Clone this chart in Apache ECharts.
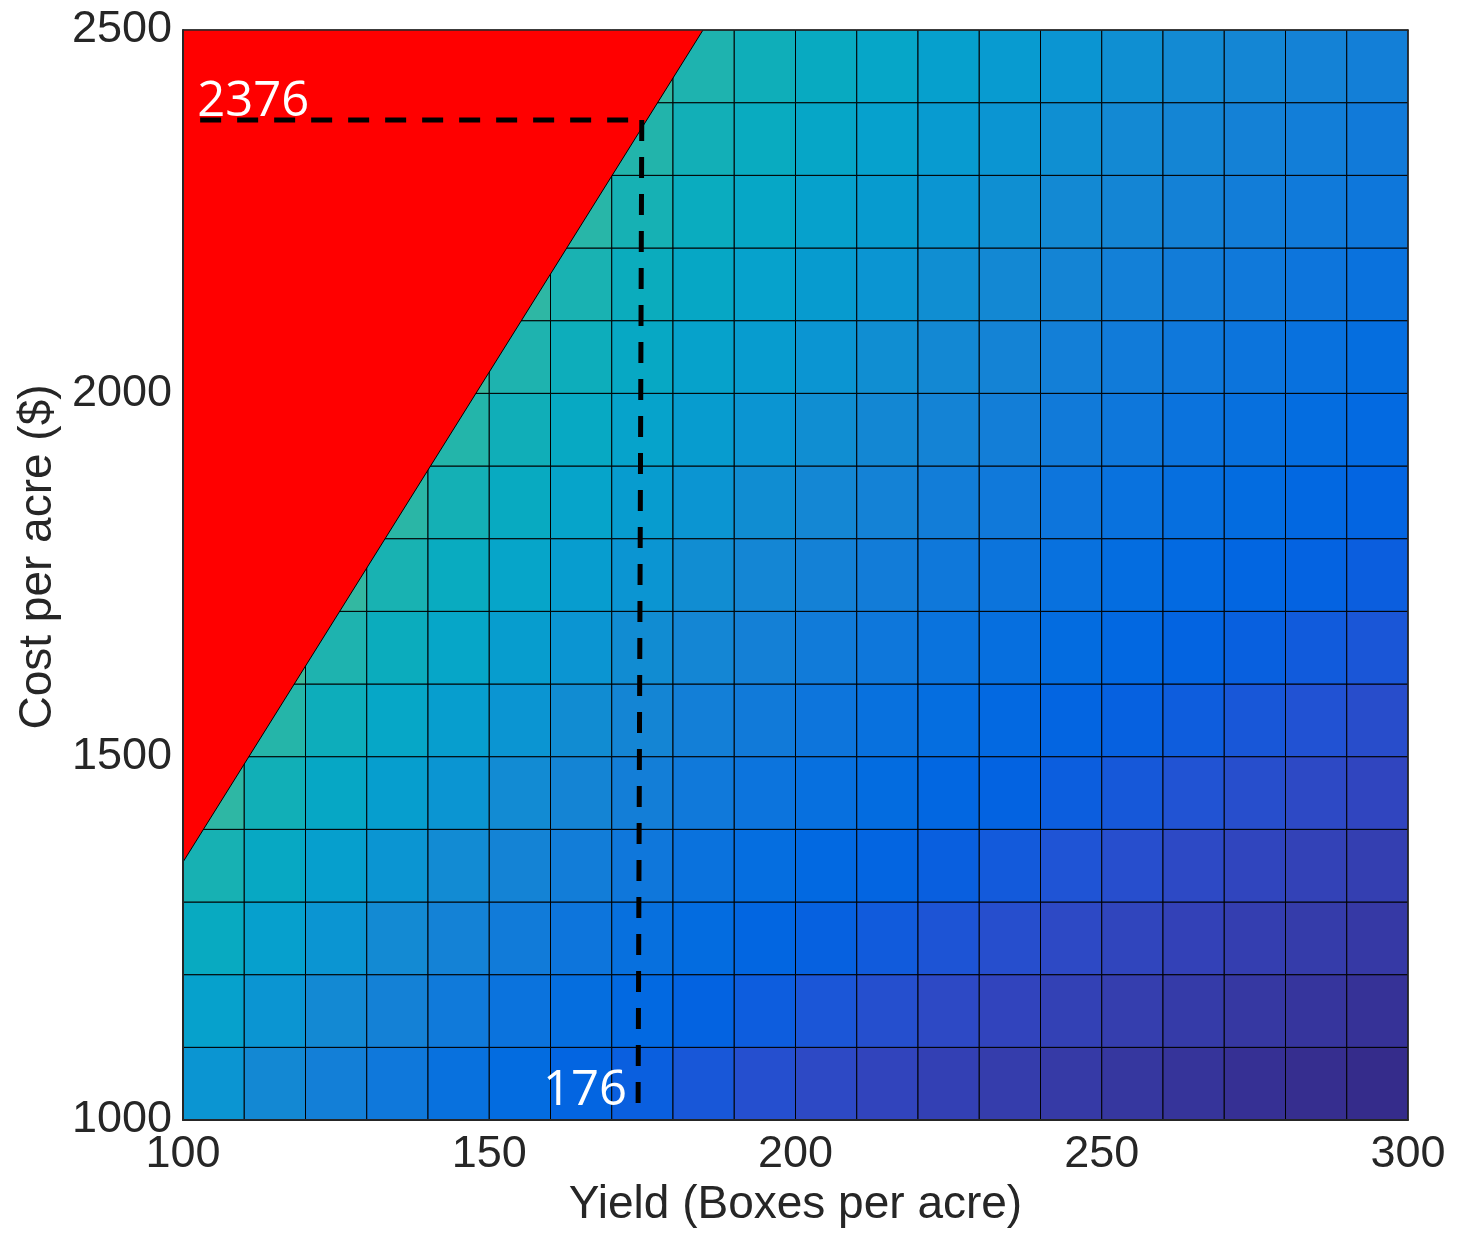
<!DOCTYPE html>
<html>
<head>
<meta charset="utf-8">
<script src="https://cdn.jsdelivr.net/npm/echarts@6/dist/echarts.min.js"></script>
<style>
html,body{margin:0;padding:0;background:#fff;}
#chart{width:1458px;height:1235px;}
</style>
</head>
<body>
<div id="chart"></div>
<script>
// ---- data ----
const yieldEdges = [100,110,120,130,140,150,160,170,180,190,200,210,220,230,240,250,260,270,280,290,300];
const costEdges = [1000,1100,1200,1300,1400,1500,1600,1700,1800,1900,2000,2100,2200,2300,2400,2500];
const xTicks = [100,150,200,250,300];
const yTicks = [1000,1500,2000,2500];
// colour value of each cell (rows: cost 1000..2400, columns: yield 100..290)
const cellValues = [
  [10.0,9.09,8.33,7.69,7.14,6.67,6.25,5.88,5.56,5.26,5.00,4.76,4.55,4.35,4.17,4.00,3.85,3.70,3.57,3.45],
  [11.0,10.0,9.17,8.46,7.86,7.33,6.88,6.47,6.11,5.79,5.50,5.24,5.00,4.78,4.58,4.40,4.23,4.07,3.93,3.79],
  [12.0,10.91,10.0,9.23,8.57,8.00,7.50,7.06,6.67,6.32,6.00,5.71,5.45,5.22,5.00,4.80,4.62,4.44,4.29,4.14],
  [13.0,11.82,10.83,10.0,9.29,8.67,8.13,7.65,7.22,6.84,6.50,6.19,5.91,5.65,5.42,5.20,5.00,4.81,4.64,4.48],
  [14.0,12.73,11.67,10.77,10.0,9.33,8.75,8.24,7.78,7.37,7.00,6.67,6.36,6.09,5.83,5.60,5.38,5.19,5.00,4.83],
  [15.0,13.64,12.5,11.54,10.71,10.0,9.38,8.82,8.33,7.89,7.50,7.14,6.82,6.52,6.25,6.00,5.77,5.56,5.36,5.17],
  [16.0,14.55,13.33,12.31,11.43,10.67,10.0,9.41,8.89,8.42,8.00,7.62,7.27,6.96,6.67,6.40,6.15,5.93,5.71,5.52],
  [17.0,15.45,14.17,13.08,12.14,11.33,10.63,10.0,9.44,8.95,8.50,8.10,7.73,7.39,7.08,6.80,6.54,6.30,6.07,5.86],
  [18.0,16.36,15.0,13.85,12.86,12.0,11.25,10.59,10.0,9.47,9.00,8.57,8.18,7.83,7.50,7.20,6.92,6.67,6.43,6.21],
  [19.0,17.27,15.83,14.62,13.57,12.67,11.88,11.18,10.56,10.0,9.50,9.05,8.64,8.26,7.92,7.60,7.31,7.04,6.79,6.55],
  [20.0,18.18,16.67,15.38,14.29,13.33,12.5,11.76,11.11,10.53,10.0,9.52,9.09,8.70,8.33,8.00,7.69,7.41,7.14,6.90],
  [21.0,19.09,17.5,16.15,15.0,14.0,13.13,12.35,11.67,11.05,10.5,10.0,9.55,9.13,8.75,8.40,8.08,7.78,7.50,7.24],
  [22.0,20.0,18.33,16.92,15.71,14.67,13.75,12.94,12.22,11.58,11.0,10.48,10.0,9.57,9.17,8.80,8.46,8.15,7.86,7.59],
  [23.0,20.91,19.17,17.69,16.43,15.33,14.38,13.53,12.78,12.11,11.5,10.95,10.45,10.0,9.58,9.20,8.85,8.52,8.21,7.93],
  [24.0,21.82,20.0,18.46,17.14,16.0,15.0,14.12,13.33,12.63,12.0,11.43,10.91,10.43,10.0,9.60,9.23,8.89,8.57,8.28]
];
const colorLimits = [3.333, 25];
// break-even boundary (red region above it)
const boundaryYield = [100, 184.9];
const boundaryCost = [1355, 2500];
// dashed guide lines and their labels
const breakEvenYield = 176;
const breakEvenCost = 2376;
const guideH = { x: [102.8, 174.9], y: [2376, 2376] };
const guideV = { x: [174.9, 174.3], y: [2376, 1015] };

// ---- style ----
const parula = ['#352a87','#363093','#3637a0','#353dad','#3243ba','#2c4ac7','#2053d4','#0f5cdd','#0363e1','#0268e1','#046de0','#0871de','#0d75dc','#1079da','#127dd8','#1481d6','#1485d4','#1389d3','#108ed2','#0c93d2','#0998d1','#079ccf','#06a0cd','#06a4ca','#06a7c6','#07a9c2','#0aacbe','#0faeb9','#16b1b4','#1db3af','#25b5a9','#2eb7a4','#38b99e','#42bb98','#4dbc92','#59bd8c','#65be86','#71bf80','#7cbf7b','#87bf77','#92bf73','#9bbf6f','#a5be6b','#aebe67','#b7bd64','#c0bc60','#c8bc5d','#d1bb59','#d9ba56','#e1b952','#e9b94e','#f1b94a','#f8bb44','#fdbe3d','#ffc337','#fec832','#fcce2e','#fad32a','#f7d826','#f5de21','#f5e41d','#f5eb18','#f6f313','#f9fb0e'];
const textColor = '#262626';
const tickFont = 'Liberation Sans, Arial, Helvetica, sans-serif';

const cells = [];
for (let r = 0; r < costEdges.length - 1; r++) {
  for (let c = 0; c < yieldEdges.length - 1; c++) {
    cells.push([yieldEdges[c], costEdges[r], yieldEdges[c+1], costEdges[r+1], cellValues[r][c]]);
  }
}

const chart = echarts.init(document.getElementById('chart'), null, {renderer: 'canvas'});

const axisLineStyle = { color: textColor, width: 2 };
const plainNumber = v => String(v);
const option = {
  animation: false,
  backgroundColor: '#ffffff',
  grid: { left: 183, right: 50, top: 30, bottom: 115, containLabel: false, outerBoundsMode: 'none' },
  visualMap: {
    type: 'continuous', show: false, dimension: 4, seriesIndex: 0,
    min: colorLimits[0], max: colorLimits[1],
    inRange: { color: parula }
  },
  xAxis: [{
    type: 'value', min: xTicks[0], max: xTicks[xTicks.length-1], interval: xTicks[1]-xTicks[0],
    z: 10,
    name: 'Yield (Boxes per acre)', nameLocation: 'middle', nameGap: 56,
    nameTextStyle: { fontSize: 46, color: textColor, fontFamily: tickFont },
    axisLine: { show: true, onZero: false, lineStyle: axisLineStyle },
    axisTick: { show: false },
    splitLine: { show: false },
    axisLabel: { fontSize: 45, color: textColor, fontFamily: tickFont, margin: 12, formatter: plainNumber }
  }, {
    type: 'value', position: 'top', min: xTicks[0], max: xTicks[xTicks.length-1], z: 10,
    axisLine: { show: true, onZero: false, lineStyle: { color: textColor, width: 1.5 } },
    axisTick: { show: false }, splitLine: { show: false }, axisLabel: { show: false }
  }],
  yAxis: [{
    type: 'value', min: yTicks[0], max: yTicks[yTicks.length-1], interval: yTicks[1]-yTicks[0],
    z: 10,
    name: 'Cost per acre ($)', nameLocation: 'middle', nameGap: 121,
    nameTextStyle: { fontSize: 46, color: textColor, fontFamily: tickFont, padding: [0, 0, 0, 36] },
    axisLine: { show: true, onZero: false, lineStyle: axisLineStyle },
    axisTick: { show: false },
    splitLine: { show: false },
    axisLabel: { fontSize: 45, color: textColor, fontFamily: tickFont, margin: 11, formatter: plainNumber }
  }, {
    type: 'value', position: 'right', min: yTicks[0], max: yTicks[yTicks.length-1], z: 10,
    axisLine: { show: true, onZero: false, lineStyle: { color: textColor, width: 1.5 } },
    axisTick: { show: false }, splitLine: { show: false }, axisLabel: { show: false }
  }],
  series: [
    {
      type: 'custom', name: 'cells', xAxisIndex: 0, yAxisIndex: 0,
      encode: { x: [0, 2], y: [1, 3] },
      data: cells,
      z: 2,
      renderItem: function (params, api) {
        const p0 = api.coord([api.value(0), api.value(1)]);
        const p1 = api.coord([api.value(2), api.value(3)]);
        return {
          type: 'rect',
          shape: { x: p0[0], y: p1[1], width: p1[0] - p0[0], height: p0[1] - p1[1] },
          style: { fill: api.visual('color'), stroke: '#000000', lineWidth: 1 }
        };
      }
    },
    {
      type: 'line', name: 'loss', xAxisIndex: 0, yAxisIndex: 0, z: 3,
      symbol: 'none',
      data: boundaryYield.map((x, i) => [x, boundaryCost[i]]),
      lineStyle: { color: '#000000', width: 1 },
      areaStyle: { color: '#ff0000', opacity: 1, origin: 'end' }
    },
    {
      type: 'line', name: 'guideH', z: 4, symbol: 'none',
      data: guideH.x.map((x, i) => [x, guideH.y[i]]),
      lineStyle: { color: '#000000', width: 5, type: [21, 16] }
    },
    {
      type: 'line', name: 'guideV', z: 4, symbol: 'none',
      data: guideV.x.map((x, i) => [x, guideV.y[i]]),
      lineStyle: { color: '#000000', width: 5, type: [21, 16] }
    },
    {
      type: 'scatter', name: 'labels', z: 5, symbolSize: 0,
      itemStyle: { opacity: 1 },
      data: [
        { value: [guideH.x[0], guideH.y[0]], label: { formatter: String(breakEvenCost), align: 'left', offset: [-3, 6] } },
        { value: [guideV.x[1], guideV.y[1]], label: { formatter: String(breakEvenYield), align: 'right', offset: [-11, 6] } }
      ],
      label: {
        show: true, position: [0, 0], verticalAlign: 'bottom', opacity: 1,
        color: '#ffffff', fontSize: 49, fontFamily: 'Open Sans, Noto Sans, sans-serif'
      }
    }
  ]
};
chart.setOption(option);
</script>
</body>
</html>
